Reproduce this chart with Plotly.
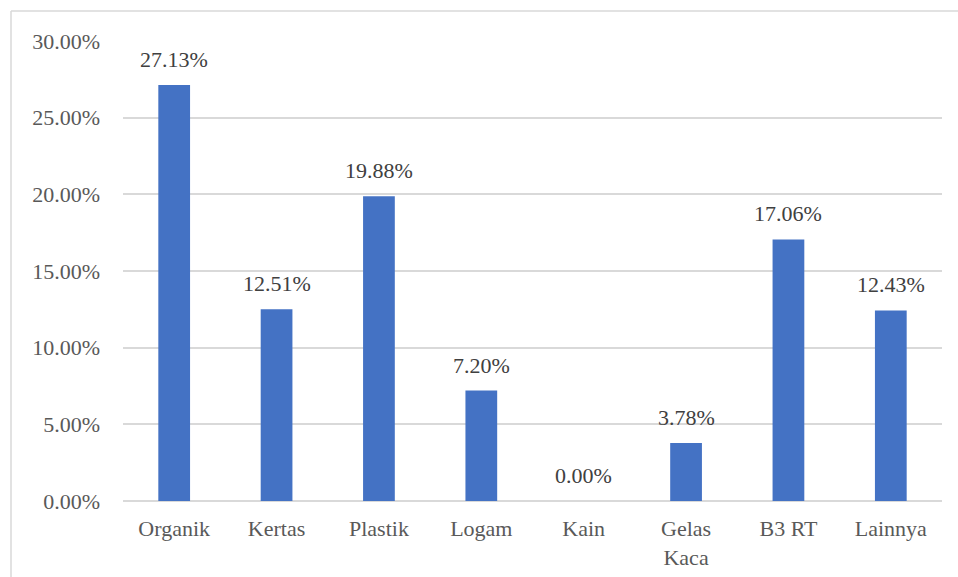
import plotly.graph_objects as go

categories = ["Organik", "Kertas", "Plastik", "Logam", "Kain", "Gelas<br>Kaca", "B3 RT", "Lainnya"]
values = [27.13, 12.51, 19.88, 7.20, 0.00, 3.78, 17.06, 12.43]
labels = [f"{v:.2f}%" for v in values]
yvals = [v / 100 for v in values]

W, H = 958, 577
L, R, T, B = 123, 16, 41, 76
pw, ph = W - L - R, H - T - B

fig = go.Figure()
fig.add_trace(go.Bar(
    x=categories, y=yvals, marker_color="#4472C4", marker_line_width=0,
    hoverinfo="skip",
))
for c, y, t in zip(categories, yvals, labels):
    fig.add_annotation(x=c, y=y, text=t, showarrow=False, yanchor="bottom",
                       yshift=11, font=dict(family="Liberation Serif", size=22, color="#404040"))

# outer frame lines (left and top)
x0 = (11 - L) / pw
y1 = (H - 11 - B) / ph
fig.add_shape(type="line", xref="paper", yref="paper", x0=x0, x1=x0, y0=-0.3, y1=y1,
              line=dict(color="#d9d9d9", width=1.5))
fig.add_shape(type="line", xref="paper", yref="paper", x0=x0, x1=1.2, y0=y1, y1=y1,
              line=dict(color="#d9d9d9", width=1.5))

fig.update_layout(
    width=W, height=H, margin=dict(l=L, r=R, t=T, b=B, autoexpand=False),
    plot_bgcolor="white", paper_bgcolor="white",
    bargap=0.69, showlegend=False,
    font=dict(family="Liberation Serif", size=22, color="#595959"),
)
fig.update_yaxes(range=[0, 0.30], dtick=0.05, tickformat=".2%", showgrid=True,
                 gridcolor="#d9d9d9", gridwidth=1.5, zeroline=True, zerolinecolor="#d9d9d9",
                 zerolinewidth=1.5, showline=False, ticks="", ticklabelstandoff=22,
                 automargin=False, fixedrange=True)
fig.update_xaxes(showgrid=False, showline=False, ticks="", ticklabelstandoff=12,
                 automargin=False, fixedrange=True)

fig.write_html("out.html", config={"displayModeBar": False})
